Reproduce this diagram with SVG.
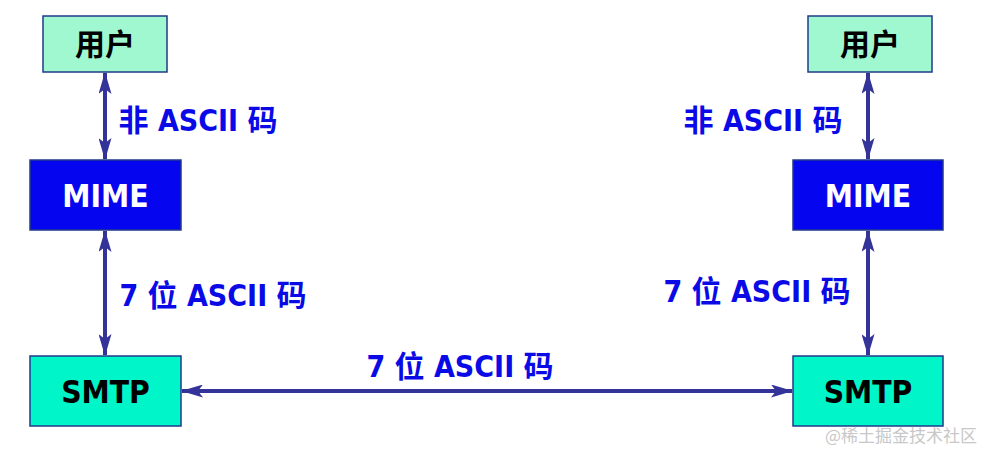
<svg xmlns="http://www.w3.org/2000/svg" width="990" height="451" viewBox="0 0 990 451">
<defs>
<marker id="ah" viewBox="0 0 22 13" refX="21" refY="6.5" markerWidth="22" markerHeight="13" markerUnits="userSpaceOnUse" orient="auto-start-reverse">
<path d="M0,0 L22,6.5 L0,13 L5,6.5 Z" fill="#333399"/>
</marker>
<style>
.user{fill:#A0F8D0;stroke:#1F3A8A;stroke-width:1.5}
.mime{fill:#0505F0;stroke:#1F3A8A;stroke-width:1.5}
.smtp{fill:#00F5C8;stroke:#1F3A8A;stroke-width:1.5}
.t{font-family:"DejaVu Sans Condensed","DejaVu Sans","Noto Sans CJK SC",sans-serif;font-weight:bold;font-size:30px;text-anchor:middle}
.big{font-size:31.5px}
.dark{fill:#000}
.white{fill:#fff}
.lbl{fill:#0A0AE6}
.c{stroke:#333399;stroke-width:4;fill:none;marker-start:url(#ah);marker-end:url(#ah)}
.wm{font-family:"Noto Sans CJK SC",sans-serif;font-size:17px;fill:#C8C8C8}
</style>
</defs>
<rect width="990" height="451" fill="#fff"/>
<g id="connectors">
<line class="c" x1="105" y1="73" x2="105" y2="159"/>
<line class="c" x1="105" y1="231" x2="105" y2="355"/>
<line class="c" x1="868" y1="73" x2="868" y2="159"/>
<line class="c" x1="868" y1="231" x2="868" y2="355"/>
<line class="c" x1="182" y1="391" x2="792" y2="391"/>
</g>
<g id="labels">
<text class="t lbl" x="198" y="131">非 ASCII 码</text>
<text class="t lbl" x="763" y="131">非 ASCII 码</text>
<text class="t lbl" x="213" y="306">7 位 ASCII 码</text>
<text class="t lbl" x="757" y="302">7 位 ASCII 码</text>
<text class="t lbl" x="460" y="377">7 位 ASCII 码</text>
</g>
<g id="user-left"><rect class="user" x="43" y="16" width="124" height="56"/><text class="t dark" x="105" y="55">用户</text></g>
<g id="mime-left"><rect class="mime" x="30" y="160" width="151" height="70"/><text class="t big white" x="105.5" y="207">MIME</text></g>
<g id="smtp-left"><rect class="smtp" x="30" y="356" width="151" height="70"/><text class="t big dark" x="105.5" y="403">SMTP</text></g>
<g id="user-right"><rect class="user" x="808" y="16" width="124" height="56"/><text class="t dark" x="870" y="55">用户</text></g>
<g id="mime-right"><rect class="mime" x="793" y="160" width="150" height="70"/><text class="t big white" x="868" y="207">MIME</text></g>
<g id="smtp-right"><rect class="smtp" x="793" y="356" width="150" height="70"/><text class="t big dark" x="868" y="403">SMTP</text></g>
<text class="wm" x="825" y="442">@稀土掘金技术社区</text>
</svg>
